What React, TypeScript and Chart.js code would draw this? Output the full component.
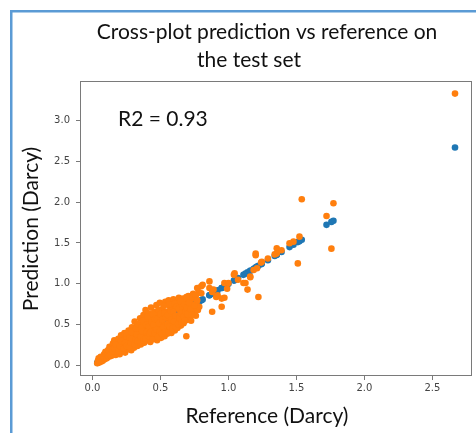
import { useEffect, useRef } from "react";
import { Chart, registerables } from "chart.js";

Chart.register(...registerables);

// Reference (measured) permeability values, Darcy
const referenceValues = [
  0.035, 0.04, 0.045, 0.05, 0.055, 0.06, 0.065,
  0.075, 0.08, 0.085, 0.09, 0.095, 0.10,
  0.105, 0.11, 0.115, 0.12, 0.125, 0.13,
  0.14, 0.145, 0.15, 0.155, 0.16, 0.165, 0.17,
  0.18, 0.185, 0.19, 0.195, 0.20, 0.205, 0.21,
  0.22, 0.225, 0.23, 0.235, 0.24, 0.245, 0.25, 0.255,
  0.26, 0.265, 0.27, 0.275, 0.28, 0.285, 0.29, 0.295,
  0.30, 0.305, 0.31, 0.315, 0.32, 0.325, 0.33, 0.335,
  0.34, 0.345, 0.35, 0.355, 0.36, 0.365, 0.37, 0.375,
  0.38, 0.385, 0.39, 0.395, 0.40, 0.405, 0.41, 0.415,
  0.42, 0.425, 0.43, 0.435, 0.44, 0.445, 0.45, 0.455,
  0.46, 0.465, 0.47, 0.475, 0.48, 0.485, 0.49, 0.495,
  0.50, 0.505, 0.51, 0.515, 0.52, 0.525, 0.53, 0.535,
  0.54, 0.545, 0.55, 0.555, 0.56, 0.565, 0.57, 0.575,
  0.58, 0.585, 0.59, 0.595, 0.60, 0.605, 0.61, 0.615,
  0.62, 0.625, 0.63, 0.635, 0.64, 0.645, 0.65, 0.655,
  0.66, 0.665, 0.67, 0.675, 0.68, 0.685, 0.69, 0.695,
  0.70, 0.705, 0.71, 0.715, 0.72, 0.725, 0.73,
  0.74, 0.745, 0.75, 0.755, 0.76, 0.765, 0.77, 0.775,
  0.78, 0.785,
  0.12, 0.13, 0.15, 0.16, 0.17,
  0.19, 0.20, 0.21,
  0.23, 0.24, 0.25, 0.25,
  0.27, 0.275, 0.28, 0.285, 0.29,
  0.31, 0.315, 0.32, 0.325, 0.33, 0.335,
  0.35, 0.355, 0.36, 0.365, 0.37, 0.375,
  0.39, 0.395, 0.40, 0.405, 0.41, 0.415, 0.42,
  0.43, 0.435, 0.44, 0.445, 0.45, 0.455, 0.46,
  0.47, 0.475, 0.48, 0.485, 0.49, 0.495, 0.50,
  0.51, 0.515, 0.52, 0.525, 0.53, 0.535, 0.54,
  0.55, 0.555, 0.56, 0.565, 0.57, 0.575, 0.58,
  0.59, 0.595, 0.60, 0.605, 0.61, 0.615, 0.62,
  0.63, 0.635, 0.64, 0.645, 0.65, 0.655, 0.66,
  0.67, 0.675, 0.68, 0.685, 0.69, 0.695, 0.70,
  0.71, 0.72, 0.73, 0.735,
  0.75, 0.76, 0.77,
  0.80, 0.80, 0.81, 0.86, 0.86, 0.88, 0.89, 0.91, 0.92, 0.88, 0.95, 0.95, 0.97, 0.97, 1.00, 0.99,
  1.045, 1.04, 1.11, 1.125, 1.14, 1.22, 1.16, 1.16, 1.20, 1.20, 1.245, 1.24, 1.355, 1.355,
  1.07, 1.185, 1.21, 1.29, 1.34, 1.39,
  1.449, 1.478, 1.522, 1.539, 1.51, 1.721, 1.772, 1.757, 2.666,
];

// Model predictions, Darcy (same order as referenceValues)
const predictedValues = [
  0.03, 0.06, 0.09, 0.04, 0.07, 0.11, 0.05,
  0.06, 0.10, 0.14, 0.08, 0.17, 0.12,
  0.09, 0.13, 0.19, 0.11, 0.23, 0.16,
  0.12, 0.20, 0.27, 0.15, 0.31, 0.23, 0.13,
  0.17, 0.26, 0.33, 0.21, 0.14, 0.29, 0.37,
  0.19, 0.25, 0.32, 0.40, 0.16, 0.22, 0.35, 0.28,
  0.20, 0.43, 0.31, 0.24, 0.38, 0.19, 0.47, 0.27,
  0.34, 0.22, 0.54, 0.41, 0.29, 0.49, 0.24, 0.37,
  0.45, 0.31, 0.58, 0.26, 0.40, 0.51, 0.34, 0.62,
  0.28, 0.46, 0.68, 0.38, 0.55, 0.31, 0.64, 0.43,
  0.50, 0.29, 0.71, 0.36, 0.59, 0.45, 0.33, 0.66,
  0.40, 0.52, 0.74, 0.31, 0.62, 0.47, 0.37, 0.77,
  0.55, 0.34, 0.69, 0.43, 0.61, 0.50, 0.36, 0.78,
  0.47, 0.66, 0.39, 0.57, 0.80, 0.44, 0.72, 0.53,
  0.40, 0.63, 0.49, 0.81, 0.57, 0.43, 0.70, 0.52,
  0.77, 0.46, 0.61, 0.83, 0.54, 0.67, 0.49, 0.75,
  0.58, 0.82, 0.52, 0.69, 0.62, 0.78, 0.36, 0.56,
  0.72, 0.85, 0.60, 0.66, 0.80, 0.55, 0.74,
  0.88, 0.64, 0.70, 0.82, 0.61, 0.77, 0.95, 0.68,
  0.90, 0.72,
  0.19, 0.13, 0.18, 0.21, 0.26,
  0.18, 0.24, 0.30,
  0.21, 0.28, 0.24, 0.39,
  0.23, 0.35, 0.28, 0.41, 0.33,
  0.26, 0.32, 0.45, 0.38, 0.30, 0.51,
  0.29, 0.36, 0.47, 0.42, 0.55, 0.31,
  0.33, 0.50, 0.41, 0.60, 0.36, 0.48, 0.39,
  0.41, 0.53, 0.32, 0.63, 0.50, 0.40, 0.57,
  0.44, 0.57, 0.35, 0.68, 0.52, 0.42, 0.63,
  0.39, 0.56, 0.47, 0.73, 0.64, 0.41, 0.59,
  0.51, 0.62, 0.41, 0.75, 0.48, 0.67, 0.56,
  0.45, 0.66, 0.54, 0.76, 0.61, 0.47, 0.72,
  0.51, 0.70, 0.58, 0.79, 0.64, 0.53, 0.72,
  0.60, 0.75, 0.55, 0.66, 0.84, 0.71, 0.63,
  0.77, 0.69, 0.62, 0.83,
  0.74, 0.86, 0.80,
  0.97, 0.885, 0.99, 1.03, 0.95, 0.90, 0.93, 0.84, 0.86, 0.66, 0.72, 0.82, 0.83, 1.01, 1.01, 0.94,
  1.13, 1.11, 1.01, 1.01, 0.93, 0.84, 1.09, 1.08, 1.35, 1.37, 1.27, 1.26, 1.435, 1.37,
  1.05, 1.17, 1.19, 1.31, 1.36, 1.41,
  1.496, 1.516, 1.577, 2.034, 1.25, 1.83, 1.985, 1.43, 3.325,
];

const xTickValues = [0, 0.5, 1.0, 1.5, 2.0, 2.5];
const yTickValues = [0, 0.5, 1.0, 1.5, 2.0, 2.5, 3.0];
const titleLines = ["Cross-plot prediction vs reference on", "the test set"];
const xAxisTitle = "Reference (Darcy)";
const yAxisTitle = "Prediction (Darcy)";
const scoreLabel = "R2 = 0.93";

const W = 476;
const H = 433;
const BIG_FONT = '21px Lato, "Open Sans", sans-serif';

export default function App() {
  const canvasRef = useRef<HTMLCanvasElement | null>(null);

  useEffect(() => {
    const canvas = canvasRef.current;
    if (!canvas) return;

    const decorations = {
      id: "decorations",
      beforeDraw(chart: any) {
        const ctx = chart.ctx;
        ctx.save();
        ctx.fillStyle = "#ffffff";
        ctx.fillRect(0, 0, W, H);
        ctx.restore();
      },
      afterDraw(chart: any) {
        const ctx = chart.ctx as CanvasRenderingContext2D;
        const a = chart.chartArea;
        ctx.save();
        // axes frame (spines)
        ctx.strokeStyle = "#7a7a7a";
        ctx.lineWidth = 1;
        ctx.strokeRect(a.left + 0.5, a.top + 0.5, a.right - a.left - 1, a.bottom - a.top - 1);

        // outer blue border (top + left)
        ctx.strokeStyle = "#5b9bd5";
        ctx.lineWidth = 2.5;
        ctx.beginPath();
        ctx.moveTo(11.25, H + 5);
        ctx.lineTo(11.25, 11.25);
        ctx.lineTo(W + 5, 11.25);
        ctx.stroke();

        // texts
        ctx.fillStyle = "#111111";
        ctx.font = BIG_FONT;
        ctx.textBaseline = "alphabetic";
        ctx.textAlign = "center";
        ctx.fillText(titleLines[0], 267, 39);
        ctx.fillText(titleLines[1], 249, 67);
        ctx.fillText(xAxisTitle, 267, 423);
        ctx.textAlign = "left";
        ctx.fillText(scoreLabel, 118, 126);

        ctx.translate(38, 229);
        ctx.rotate(-Math.PI / 2);
        ctx.textAlign = "center";
        ctx.fillText(yAxisTitle, 0, 0);
        ctx.restore();
      },
    };

    const tickFont = { family: '"DejaVu Sans", sans-serif', size: 10 };

    const chart = new Chart(canvas, {
      type: "scatter",
      data: {
        datasets: [
          {
            label: "reference",
            data: referenceValues.map((r) => ({ x: r, y: r })),
            backgroundColor: "#1f77b4",
            borderWidth: 0,
            pointRadius: 3.3,
            order: 2,
          },
          {
            label: "prediction",
            data: referenceValues.map((r, i) => ({ x: r, y: predictedValues[i] })),
            backgroundColor: "#ff7f0e",
            borderWidth: 0,
            pointRadius: 3.3,
            order: 1,
          },
        ],
      },
      options: {
        responsive: false,
        animation: false,
        devicePixelRatio: 1,
        events: [],
        layout: { padding: { top: 81, right: 1, left: 0, bottom: 0 } },
        plugins: {
          legend: { display: false },
          tooltip: { enabled: false },
          title: { display: false },
        },
        scales: {
          x: {
            type: "linear",
            min: -0.092,
            max: 2.791,
            afterBuildTicks: (s: any) => {
              s.ticks = xTickValues.map((v) => ({ value: v }));
            },
            afterFit: (s: any) => {
              s.height = H - 376;
            },
            grid: {
              drawOnChartArea: false,
              drawTicks: true,
              tickLength: 4,
              tickColor: "#7a7a7a",
            },
            border: { display: false },
            ticks: {
              padding: 2,
              color: "#444444",
              font: tickFont,
              maxRotation: 0,
              autoSkip: false,
              callback: (v: any) => Number(v).toFixed(1),
            },
          },
          y: {
            type: "linear",
            min: -0.126,
            max: 3.479,
            afterBuildTicks: (s: any) => {
              s.ticks = yTickValues.map((v) => ({ value: v }));
            },
            afterFit: (s: any) => {
              s.width = 80;
            },
            grid: {
              drawOnChartArea: false,
              drawTicks: true,
              tickLength: 4,
              tickColor: "#7a7a7a",
            },
            border: { display: false },
            ticks: {
              padding: 6,
              color: "#444444",
              font: tickFont,
              autoSkip: false,
              callback: (v: any) => Number(v).toFixed(1),
            },
          },
        },
      },
      plugins: [decorations],
    });

    return () => chart.destroy();
  }, []);

  return (
    <div style={{ position: "absolute", left: 0, top: 0, width: W, height: H, background: "#fff" }}>
      <canvas ref={canvasRef} width={W} height={H} style={{ display: "block" }} />
    </div>
  );
}
